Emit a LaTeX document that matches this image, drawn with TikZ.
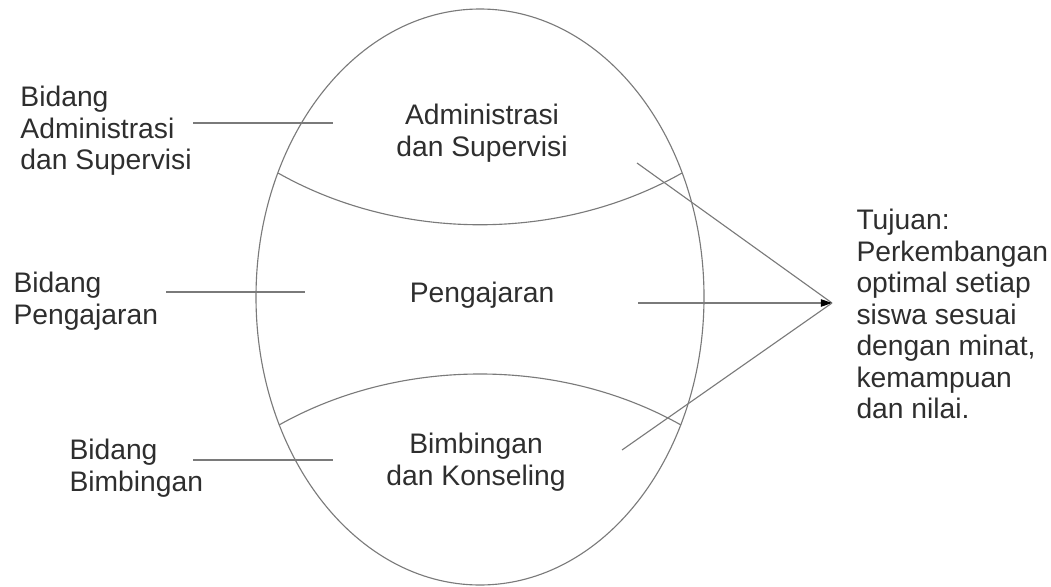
\documentclass[tikz,border=0pt]{standalone}
\usepackage{fontspec}
\setmainfont{Liberation Sans}
\usetikzlibrary{arrows.meta}
\definecolor{txtgray}{HTML}{2E2E2E}
\definecolor{linegray}{HTML}{7A7A7A}

\begin{document}
\begin{tikzpicture}[x=0.4pt, y=-0.4pt,
    lbl/.style={font=\fontsize{11.3}{12.6}\selectfont, text=txtgray, inner sep=0pt},
    side/.style={lbl, anchor=west, align=left},
    region/.style={lbl, align=center},
    leader/.style={draw=linegray, line width=0.45pt}]
  \useasboundingbox (0,0) rectangle (1051,586);
  % Egg and its two dividers
  \draw[leader] (480,297) ellipse [x radius=224, y radius=288];
  \draw[leader] (278,173) .. controls (400,242) and (560,242) .. (682,173);
  \draw[leader] (279,425) .. controls (400,357) and (560,357) .. (681,425);
  % Regions inside
  \node[region] (adm) at (482,133) {Administrasi\\dan Supervisi};
  \node[region] (pgj) at (482,295) {Pengajaran};
  \node[region] (bim) at (476,462) {Bimbingan\\dan Konseling};
  % Labels on the left
  \node[side] (lbl adm) at (20,131) {Bidang\\Administrasi\\dan Supervisi};
  \node[side] (lbl pgj) at (13,301) {Bidang\\Pengajaran};
  \node[side] (lbl bim) at (69,468) {Bidang\\Bimbingan};
  \coordinate (adm l) at (193,123);
  \coordinate (adm r) at (333,123);
  \coordinate (pgj l) at (166,292);
  \coordinate (pgj r) at (305,292);
  \coordinate (bim l) at (193,460);
  \coordinate (bim r) at (333,460);
  \draw[leader] (adm l) -- (adm r);
  \draw[leader] (pgj l) -- (pgj r);
  \draw[leader] (bim l) -- (bim r);
  % Goal
  \node[side] (goal) at (856,314) {Tujuan:\\Perkembangan\\optimal setiap\\siswa sesuai\\dengan minat,\\kemampuan\\dan nilai.};
  \coordinate (tip) at (832,303);
  \coordinate (adm out) at (637,163);
  \coordinate (pgj out) at (638,303);
  \coordinate (bim out) at (622,450);
  \draw[leader] (adm out) -- (tip);
  \draw[leader, -{Triangle[length=4.5pt, width=3pt, color=black]}] (pgj out) -- (tip);
  \draw[leader] (bim out) -- (tip);
\end{tikzpicture}
\end{document}
